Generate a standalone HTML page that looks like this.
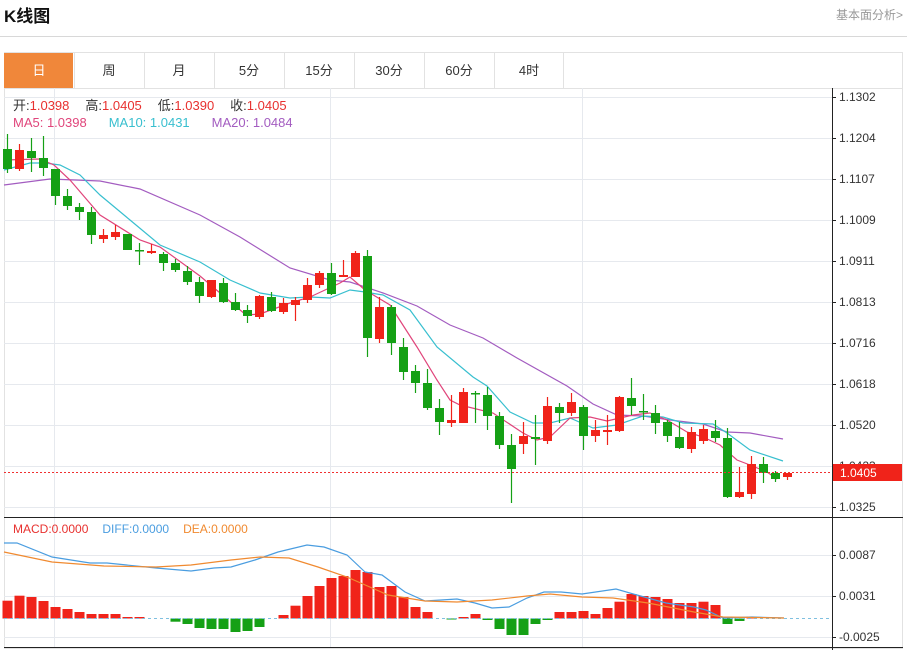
<!DOCTYPE html>
<html><head><meta charset="utf-8"><style>
html,body{margin:0;padding:0;background:#fff;width:907px;height:650px;overflow:hidden;font-family:"Liberation Sans","Noto Sans CJK SC",sans-serif}
</style></head><body>
<svg id="s" width="907" height="650" xmlns="http://www.w3.org/2000/svg" style="position:absolute;left:0;top:0">
<text x="4" y="22" font-size="17" font-weight="bold" fill="#111" font-family="Liberation Sans,Noto Sans CJK SC,sans-serif">K线图</text>
<text x="903" y="19" font-size="12" fill="#999" text-anchor="end" font-family="Liberation Sans,Noto Sans CJK SC,sans-serif">基本面分析&gt;</text>
<line x1="0" y1="36.5" x2="907" y2="36.5" stroke="#d8d8d8"/>
<rect x="4.5" y="52.5" width="898" height="596" fill="none" stroke="#e2e2e2"/>
<line x1="4" y1="88.5" x2="903" y2="88.5" stroke="#e2e2e2"/>
<rect x="4" y="53" width="69" height="35" fill="#f0873a"/>
<g id="tabs" font-size="13" fill="#333" text-anchor="middle" font-family="Liberation Sans,Noto Sans CJK SC,sans-serif"></g>
<g id="grid"></g>
<g id="ma"></g>
<g id="candles"></g>
<g id="macd"></g>
<line x1="4" y1="472.5" x2="832" y2="472.5" stroke="#f03030" stroke-dasharray="2,2"/>
<line x1="832.5" y1="88" x2="832.5" y2="650" stroke="#222"/>
<line x1="4" y1="517.5" x2="903" y2="517.5" stroke="#222"/>
<line x1="4" y1="647.5" x2="903" y2="647.5" stroke="#222"/>
<g id="axis" font-size="12" fill="#333" font-family="Liberation Sans,sans-serif"></g>
<rect x="833" y="464" width="69" height="17" fill="#f0231a"/>
<text x="840" y="477" font-size="12" fill="#fff" font-family="Liberation Sans,sans-serif">1.0405</text>
<g font-family="Liberation Sans,Noto Sans CJK SC,sans-serif">
<text x="13" y="110" font-size="13"><tspan fill="#333">开:</tspan><tspan fill="#e8312f">1.0398</tspan><tspan fill="#333" dx="16">高:</tspan><tspan fill="#e8312f">1.0405</tspan><tspan fill="#333" dx="16">低:</tspan><tspan fill="#e8312f">1.0390</tspan><tspan fill="#333" dx="16">收:</tspan><tspan fill="#e8312f">1.0405</tspan></text>
<text x="13" y="127" font-size="13"><tspan fill="#e0457b">MA5: 1.0398</tspan><tspan fill="#38bfcf" dx="22">MA10: 1.0431</tspan><tspan fill="#a35cc0" dx="22">MA20: 1.0484</tspan></text>
<text x="13" y="533" font-size="12"><tspan fill="#e8312f">MACD:0.0000</tspan><tspan fill="#4a9de0" dx="14">DIFF:0.0000</tspan><tspan fill="#f08a30" dx="14">DEA:0.0000</tspan></text>
</g>
</svg>
<script>
var NS="http://www.w3.org/2000/svg";
function el(p,t,a,txt){var e=document.createElementNS(NS,t);for(var k in a)e.setAttribute(k,a[k]);if(txt!=null)e.textContent=txt;document.getElementById(p).appendChild(e);return e;}
var tabs=["日","周","月","5分","15分","30分","60分","4时"];
for(var i=0;i<8;i++){var x0=4+70*i;el("tabs","text",{x:x0+35,y:75,fill:i==0?"#fff":"#333"},tabs[i]);if(i>0)el("grid","line",{x1:x0+.5,y1:53,x2:x0+.5,y2:88,stroke:"#e2e2e2"});}
el("grid","line",{x1:563.5,y1:53,x2:563.5,y2:88,stroke:"#e2e2e2"});
var labs=["1.1302","1.1204","1.1107","1.1009","1.0911","1.0813","1.0716","1.0618","1.0520","1.0423","1.0325"];
for(var i=0;i<11;i++){var y=97+41*i;el("grid","line",{x1:4,y1:y+.5,x2:832,y2:y+.5,stroke:"#e6e9ee"});el("axis","line",{x1:832,y1:y+.5,x2:836,y2:y+.5,stroke:"#222"});el("axis","text",{x:839,y:y+4,fill:"#333"},labs[i]);}
var ml=[["0.0087",555],["0.0031",596],["-0.0025",637]];
ml.forEach(function(m){el("grid","line",{x1:4,y1:m[1]+.5,x2:832,y2:m[1]+.5,stroke:"#e6e9ee"});el("axis","line",{x1:832,y1:m[1]+.5,x2:836,y2:m[1]+.5,stroke:"#222"});el("axis","text",{x:839,y:m[1]+4},m[0]);});
[54,330,582].forEach(function(x){el("grid","line",{x1:x+.5,y1:88,x2:x+.5,y2:647,stroke:"#e6e9ee"});});
var C=[[149,169,134,173],[169,150,144,171],[151,158,138,172],[158,168,136,176],[169,196,169,205],[196,206,189,210],[207,212,203,220],[212,235,207,244],[239,235,229,243],[237,232,225,240],[234,250,234,250],[250,251,243,265],[253,251,244,254],[254,263,252,271],[263,270,259,272],[271,282,266,285],[282,296,277,303],[297,280,280,298],[283,302,278,303],[302,310,293,311],[310,316,305,323],[317,296,295,319],[297,311,292,312],[312,303,298,314],[305,300,297,321],[300,285,278,303],[285,273,271,288],[273,294,263,295],[277,275,260,277],[277,253,251,277],[256,338,250,357],[339,307,297,343],[307,343,305,355],[347,372,338,380],[371,383,365,393],[383,408,369,410],[408,422,399,435],[423,420,395,427],[423,392,388,423],[393,394,391,423],[395,416,387,430],[416,445,412,449],[445,469,434,503],[444,436,422,454],[437,439,415,465],[441,406,397,444],[407,413,403,423],[413,402,393,416],[407,436,405,450],[436,430,420,442],[432,430,415,445],[431,397,396,432],[398,406,378,415],[411,412,394,420],[413,423,405,434],[422,436,420,442],[437,448,422,449],[449,432,427,453],[441,429,425,444],[431,438,420,442],[438,497,428,498],[497,492,467,498],[494,464,456,499],[464,473,457,483],[473,479,471,482],[477,473,473,480]];
C.forEach(function(c,i){var x=7.5+12*i,up=c[1]<c[0],col=up?"#f0231a":"#15a015";
el("candles","line",{x1:x,y1:c[2],x2:x,y2:c[3],stroke:col,"stroke-width":1.2});
var t=Math.min(c[0],c[1]),h=Math.max(Math.abs(c[0]-c[1]),1.5);
el("candles","rect",{x:x-4.5,y:t,width:9,height:h,fill:col});});
function pl(g,pts,col){el(g,"polyline",{points:pts,fill:"none",stroke:col,"stroke-width":1.2});}
pl("ma","4,185 50,179 100,181 140,189 200,215 240,237 290,268 330,280 350,282 383,293 417,306 450,325 483,338 517,358 567,386 593,404 617,415 643,416 670,420 703,424 727,432 750,433 783,439","#a35cc0");
pl("ma","4,170 30,163 45,163 60,165 80,175 100,195 130,220 160,245 200,262 230,280 260,293 290,298 310,297 330,298 350,290 365,292 383,295 410,310 437,347 473,377 487,386 510,412 533,423 550,423 570,418 593,428 617,425 643,416 663,417 683,423 713,424 727,433 750,450 783,461","#38bfcf");
pl("ma","4,160 40,159 54,165 70,180 100,215 140,240 160,247 200,276 246,315 260,314 290,303 310,297 340,283 350,277 365,290 390,305 417,347 437,380 450,400 460,405 493,413 523,433 537,440 550,437 570,418 590,417 607,421 633,415 650,413 667,420 687,432 703,437 720,445 737,460 750,465 767,472 777,479","#e0457b");
var B=[600.7,595.7,597,601,607,609,612,614,614,614,617,617,618,618,621.7,624,628,629,629,632,631,627,619,615,605.7,596,586,578,576,570,572,587,586,597,607,612,618,619.5,617,614,620,629,635,635,624,620,612,612,611,614,608,601.7,594,596,597,599,603,603,601.7,605,624,621,616.5,619];
B.forEach(function(b,i){var x=7.5+12*i;var z=618.5;var col=b<z?"#f0231a":"#15a015";var t=Math.min(b,z),h=Math.abs(b-z);if(h<0.8)return;el("macd","rect",{x:x-5,y:t,width:10,height:h,fill:col});});
el("macd","line",{x1:4,y1:618.5,x2:832,y2:618.5,stroke:"#7fc0e0","stroke-dasharray":"3,3"});
pl("macd","4,543 17,543 52,557 90,563 107,563 156,568 191,571 214,568 231,567 255,560 278,552 307,545 324,547 347,555 365,572 382,575 405,592 425,601 457,599 475,603 492,608 509,607 527,598 544,592 561,592 582,594 616,589 637,595 666,603 694,607 706,610 723,618 752,617 784,618","#4a9de0");
pl("macd","4,552 52,562 104,566 156,567 191,565 231,560 260,557 289,558 318,567 347,577 388,595 425,601 457,602 492,600 527,596 550,594 582,597 613,598 648,603 694,612 723,617 784,618","#f08a30");
</script>
</body></html>
